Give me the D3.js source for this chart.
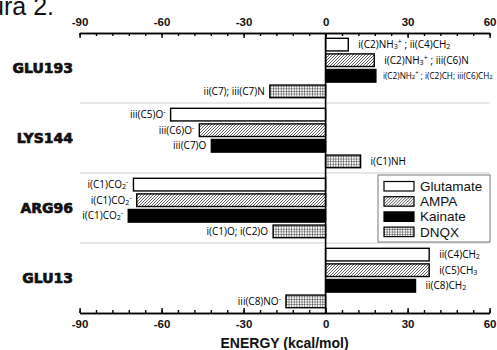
<!DOCTYPE html>
<html><head><meta charset="utf-8">
<script src="https://cdn.jsdelivr.net/npm/d3@7/dist/d3.min.js"></script>
<style>body{margin:0;background:#fff}svg{display:block}</style>
</head><body>
<svg id="c" width="497" height="350"></svg>
<script>
const categories = ["GLU193", "LYS144", "ARG96", "GLU13"];
const seriesNames = ["Glutamate", "AMPA", "Kainate", "DNQX"];
const glutamate = [8.3, -56.7, -70.3, 37.9];
const ampa = [17.8, -46.2, -69.1, 37.9];
const kainate = [18.4, -41.8, -72.2, 32.9];
const dnqx = [-20.4, 12.8, -19.2, -14.5];
const glutamateLabels = ["i(C2)NH_3^+ ; ii(C4)CH_2", "iii(C5)O^-", "i(C1)CO_2^-", "ii(C4)CH_2"];
const ampaLabels = ["i(C2)NH_3^+ ; iii(C6)N", "iii(C6)O^-", "i(C1)CO_2^-", "i(C5)CH_3"];
const kainateLabels = ["i(C2)NH_2^+ ; i(C2)CH; iii(C6)CH_2", "iii(C7)O", "i(C1)CO_2^-", "ii(C8)CH_2"];
const dnqxLabels = ["ii(C7); iii(C7)N", "i(C1)NH", "i(C1)O; i(C2)O", "iii(C8)NO^-"];
const xTicks = [-90, -60, -30, 0, 30, 60];
const xMinorTicks = d3.range(-90, 61, 6);
const axisTitle = "ENERGY (kcal/mol)";
const figTitle = "Figura 2.";

const seriesValues = [glutamate, ampa, kainate, dnqx];
const seriesLabels = [glutamateLabels, ampaLabels, kainateLabels, dnqxLabels];

const svg = d3.select("#c");
const L = 79.6, R = 489.6, T = 33, B = 313;
const x = d3.scaleLinear().domain([-90, 60]).range([L, R]);
const yG = d3.scaleBand().domain(categories).range([T, B]).padding(0);
const yS = d3.scaleBand().domain(seriesNames).range([0, yG.bandwidth()]).paddingInner(0.19).paddingOuter(0.34);

// patterns
const defs = svg.append("defs");
const ph = defs.append("pattern").attr("id", "hatch").attr("patternUnits", "userSpaceOnUse")
  .attr("width", 3).attr("height", 3);
ph.append("rect").attr("width", 3).attr("height", 3).attr("fill", "#fff");
ph.append("path").attr("d", "M-1,1 L1,-1 M0,3 L3,0 M2,4 L4,2").attr("stroke", "#444").attr("stroke-width", 0.85);
const pg = defs.append("pattern").attr("id", "grid").attr("patternUnits", "userSpaceOnUse")
  .attr("width", 2.6).attr("height", 2.6);
pg.append("rect").attr("width", 2.6).attr("height", 2.6).attr("fill", "#fff");
pg.append("path").attr("d", "M0,0 H2.6 M0,0 V2.6").attr("stroke", "#222").attr("stroke-width", 1);

const fills = {Glutamate: "#fff", AMPA: "url(#hatch)", Kainate: "#000", DNQX: "url(#grid)"};

// figure title (cropped at the top-left)
svg.append("text").attr("x", 54).attr("y", 15).attr("text-anchor", "end")
  .attr("font-family", "Liberation Sans, Arial, sans-serif").attr("font-size", 25)
  .attr("fill", "#111").text(figTitle);

// separators
svg.append("g").selectAll("line").data(categories.slice(1)).join("line")
  .attr("x1", L).attr("x2", R).attr("y1", d => yG(d)).attr("y2", d => yG(d))
  .attr("stroke", "#cfcfcf").attr("stroke-width", 1);

// bars
const rows = [];
categories.forEach((c, i) => seriesNames.forEach((s, j) => rows.push({c, s, v: seriesValues[j][i], lab: seriesLabels[j][i]})));

svg.append("g").selectAll("rect").data(rows).join("rect")
  .attr("x", d => x(Math.min(0, d.v)))
  .attr("width", d => Math.abs(x(d.v) - x(0)))
  .attr("y", d => yG(d.c) + yS(d.s))
  .attr("height", yS.bandwidth())
  .attr("fill", d => fills[d.s])
  .attr("stroke", "#000").attr("stroke-width", 1.4);

// labels with sub/sup markup
function addLabel(sel, str, fs) {
  const parts = str.split(/(_[^_^ ;]+|\^[^_^ ;]+)/).filter(p => p.length);
  let pending = 0;
  parts.forEach(p => {
    let ts;
    if (p[0] === "_") {
      const off = fs * 0.08;
      ts = sel.append("tspan").attr("font-size", fs * 0.72).attr("dy", pending + off).text(p.slice(1));
      pending = -off;
    } else if (p[0] === "^") {
      const off = -fs * 0.4;
      ts = sel.append("tspan").attr("font-size", fs * 0.72).attr("dy", pending + off).text(p.slice(1));
      pending = -off;
    } else {
      ts = sel.append("tspan").attr("font-size", fs).text(p);
      if (pending) ts.attr("dy", pending);
      pending = 0;
    }
  });
}
const lg = svg.append("g").attr("font-family", "Open Sans, sans-serif").attr("fill", "#000");
rows.forEach(d => {
  const fs = d.lab.length > 25 ? 8.2 : 10;
  const pos = d.v >= 0;
  const t = lg.append("text")
    .attr("x", pos ? x(d.v) + (fs < 10 ? 7 : 10) : x(d.v) - 5)
    .attr("y", yG(d.c) + yS(d.s) + yS.bandwidth() / 2 + fs * 0.35)
    .attr("text-anchor", pos ? "start" : "end")
    .attr("font-size", fs);
  addLabel(t, d.lab, fs);
});

// zero line
svg.append("line").attr("x1", x(0)).attr("x2", x(0)).attr("y1", T).attr("y2", B)
  .attr("stroke", "#000").attr("stroke-width", 1.6);

// axes
function styleAxis(g) {
  g.selectAll("path.domain").attr("stroke", "#000").attr("stroke-width", 1.6);
  g.selectAll(".tick line").attr("stroke", "#000").attr("stroke-width", 1.4);
  g.selectAll(".tick text").attr("font-family", "Liberation Sans, Arial, sans-serif")
    .attr("font-weight", "bold").attr("font-size", 11.5).attr("fill", "#111");
}
const fmt = d => String(d);
const topMinor = svg.append("g").attr("transform", `translate(0,${T})`)
  .call(d3.axisTop(x).tickValues(xMinorTicks).tickSize(-3).tickSizeOuter(0).tickFormat(""));
styleAxis(topMinor);
const topAx = svg.append("g").attr("transform", `translate(0,${T})`)
  .call(d3.axisTop(x).tickValues(xTicks).tickSize(-5).tickSizeOuter(0).tickPadding(7).tickFormat(fmt));
styleAxis(topAx);
const botMinor = svg.append("g").attr("transform", `translate(0,${B})`)
  .call(d3.axisBottom(x).tickValues(xMinorTicks).tickSize(-3).tickSizeOuter(0).tickFormat(""));
styleAxis(botMinor);
const botAx = svg.append("g").attr("transform", `translate(0,${B})`)
  .call(d3.axisBottom(x).tickValues(xTicks).tickSize(-5).tickSizeOuter(0).tickPadding(7).tickFormat(fmt));
styleAxis(botAx);

// category labels
svg.append("g").selectAll("text").data(categories).join("text")
  .attr("x", 73).attr("y", d => yG(d) + yG.bandwidth() / 2 + 5)
  .attr("text-anchor", "end")
  .attr("font-family", "DejaVu Sans, sans-serif").attr("font-weight", "bold")
  .attr("font-size", 14).attr("fill", "#111")
  .attr("stroke", "#111").attr("stroke-width", 0.7).attr("stroke-linejoin", "round")
  .text(d => d);

// axis title
svg.append("text").attr("x", (L + R) / 2).attr("y", 348).attr("text-anchor", "middle")
  .attr("font-family", "Liberation Sans, Arial, sans-serif").attr("font-weight", "bold")
  .attr("font-size", 14).attr("fill", "#111").text(axisTitle);

// legend
const leg = svg.append("g").attr("transform", "translate(378,175)");
leg.append("rect").attr("width", 112).attr("height", 67).attr("fill", "#fff")
  .attr("stroke", "#777").attr("stroke-width", 1);
const li = leg.selectAll("g.it").data(seriesNames).join("g").attr("class", "it")
  .attr("transform", (d, i) => `translate(6,${11 + i * 15.2})`);
li.append("rect").attr("x", 0).attr("y", -4.5).attr("width", 30).attr("height", 9.5)
  .attr("fill", d => fills[d]).attr("stroke", "#000").attr("stroke-width", 1.2);
li.append("text").attr("x", 36).attr("y", 5).attr("font-family", "Liberation Sans, Arial, sans-serif")
  .attr("font-size", 13.5).attr("fill", "#111").text(d => d);
</script>
</body></html>
